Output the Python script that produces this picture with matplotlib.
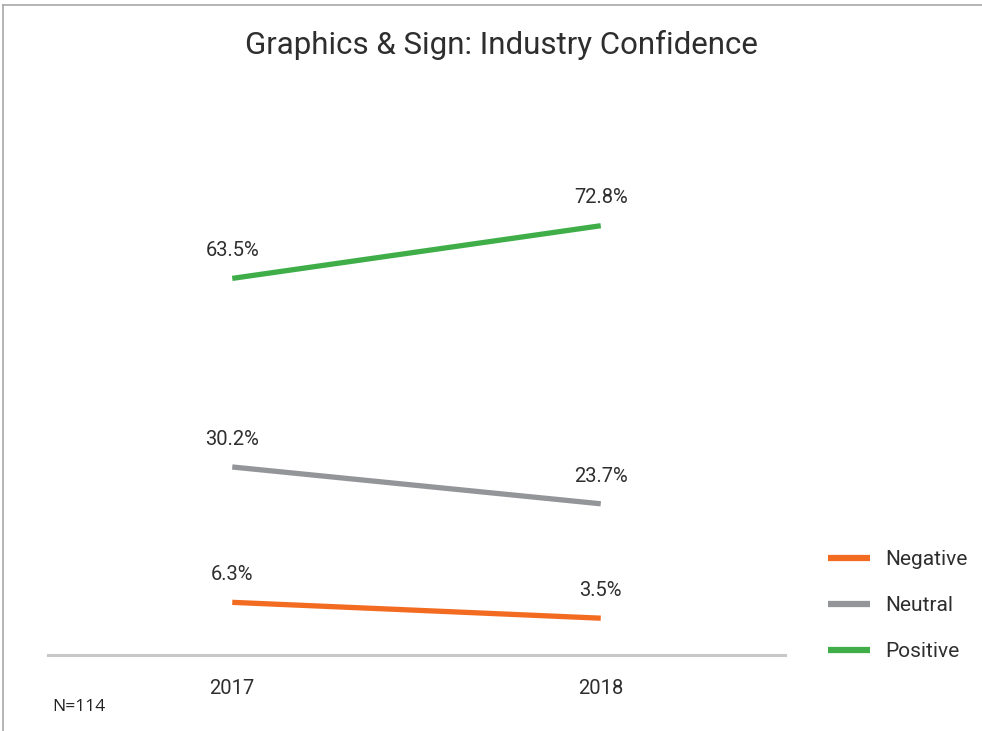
import matplotlib
matplotlib.use("Agg")
import matplotlib.pyplot as plt
from matplotlib.lines import Line2D

# Dados
years = ["2017", "2018"]
series_names = ["Negative", "Neutral", "Positive"]
negative = [6.3, 3.5]
neutral = [30.2, 23.7]
positive = [63.5, 72.8]
colors = ["#F26B21", "#939598", "#3FAE49"]
sample_note = "N=114"

NARROW = ["Roboto", "DejaVu Sans"]
TXT = "#2E2E2E"

fig = plt.figure(figsize=(9.82, 7.31), dpi=100)
fig.patch.set_facecolor("white")

# Moldura (topo e esquerda)
fig.add_artist(Line2D([3 / 982, 1.0], [1 - 5 / 731, 1 - 5 / 731], color="#A8A8A8", lw=1.2))
fig.add_artist(Line2D([3 / 982, 3 / 982], [0, 1 - 5 / 731], color="#A8A8A8", lw=1.2))

ax = fig.add_axes([48 / 982, 1 - 655 / 731, 737 / 982, 555 / 731])
x = list(range(len(years)))

for name, vals, col in zip(series_names, [negative, neutral, positive], colors):
    ax.plot(x, vals, color=col, linewidth=3.8, solid_capstyle="butt", label=name)
    for xi, v in zip(x, vals):
        ax.annotate(f"{v:.1f}%", (xi, v), xytext=(0, 20), textcoords="offset points",
                    ha="center", va="center", fontsize=14.5, color=TXT, family=NARROW)

ax.set_xlim(-0.5, 1.5)
ax.set_ylim(-3, 95)
ax.set_xticks(x)
ax.set_xticklabels(years, family=NARROW, fontsize=14.5, color=TXT)
ax.set_yticks([])
ax.tick_params(axis="x", length=0, pad=17)
for s in ["top", "right", "left"]:
    ax.spines[s].set_visible(False)
ax.spines["bottom"].set_color("#C8C8C8")
ax.spines["bottom"].set_linewidth(2.2)

fig.text(501 / 982, 1 - 45 / 731, "Graphics & Sign: Industry Confidence", ha="center", va="center",
         fontsize=22.5, color=TXT, family=NARROW)

fig.text(52 / 982, 1 - 707 / 731, sample_note, ha="left", va="center", fontsize=12.5, color="#222222",
         family=["Open Sans", "DejaVu Sans"])

leg = fig.legend(loc="center left", bbox_to_anchor=(828 / 982, 1 - 605.5 / 731), frameon=False,
                 borderpad=0, borderaxespad=0, handlelength=2.0, handletextpad=0.75,
                 labelspacing=1.3, prop={"family": NARROW, "size": 15})
for h in leg.legend_handles:
    h.set_linewidth(4.5)
for t in leg.get_texts():
    t.set_color(TXT)

plt.savefig("out.png", dpi=100, facecolor="white")
